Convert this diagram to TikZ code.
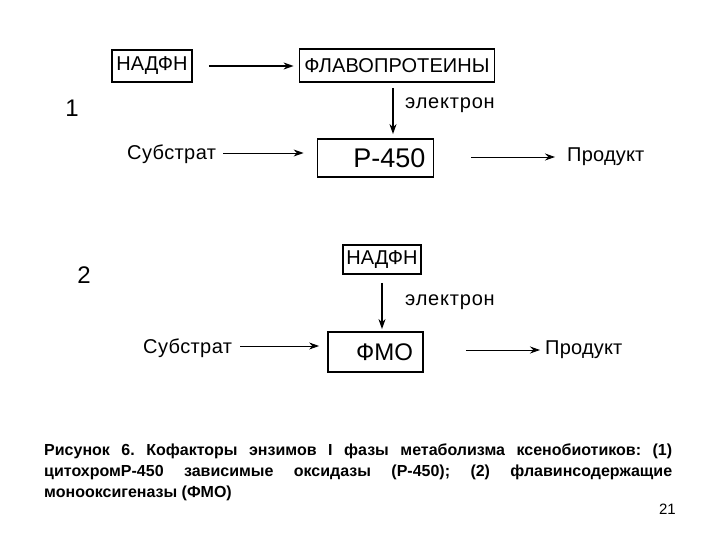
\documentclass[tikz,border=0pt]{standalone}
\usepackage{fontspec}
\setmainfont{Liberation Sans}
\usetikzlibrary{arrows.meta}
\begin{document}
\begin{tikzpicture}[x=1pt,y=-1pt,
  box/.style={draw=black, line width=1.8pt, inner sep=0pt, font=\fontsize{20}{22}\selectfont},
  num/.style={inner sep=0pt, font=\fontsize{24}{26}\selectfont},
  elbl/.style={inner sep=0pt, anchor=west, font=\fontsize{20}{22}\selectfont\addfontfeatures{LetterSpace=4}},
  slbl/.style={inner sep=0pt, anchor=west, font=\fontsize{20}{22}\selectfont\addfontfeatures{LetterSpace=2}},
  plbl/.style={inner sep=0pt, anchor=west, font=\fontsize{20}{22}\selectfont\addfontfeatures{LetterSpace=1}},
  arr/.style={-{Stealth[length=10pt,width=7pt]}, line width=1.6pt},
  tarr/.style={-{Stealth[length=10pt,width=7pt]}, line width=0.9pt}]
\useasboundingbox (0,0) rectangle (720,540);
% part 1
\node[box, minimum width=80pt, minimum height=32pt] (n1) at (152,66) {НАДФН};
\node[box, minimum width=195pt, minimum height=33pt, font=\fontsize{20}{22}\selectfont\addfontfeatures{LetterSpace=0.5}] (fp) at (397,65.5) {ФЛАВОПРОТЕИНЫ};
\node[box, minimum height=38pt, inner xsep=8pt, text width=100pt, align=flush right, font=\fontsize{27}{28}\selectfont] (p450) at (375.5,158) {Р-450};
\node[num] (one) at (72,108) {1};
\node[elbl] (e1) at (405,105) {электрон};
\node[slbl] (s1) at (127,154) {Субстрат};
\node[plbl] (pr1) at (567,157) {Продукт};
\draw[arr, shorten <=16pt, shorten >=5pt] (n1) -- (fp.west |- n1);
\draw[arr, shorten <=5pt, shorten >=4pt] ([xshift=-4pt]fp.south) -- ([xshift=-4pt]fp.south |- p450.north);
\draw[tarr, shorten <=7pt, shorten >=13pt] ([yshift=1pt]s1.east) -- ([yshift=1pt]s1.east -| p450.west);
\draw[tarr, shorten <=37pt, shorten >=12pt] (p450.east |- pr1) -- (pr1.west);
% part 2
\node[num] (two) at (84,275) {2};
\node[box, minimum width=78pt, minimum height=29pt] (n2) at (382,259.5) {НАДФН};
\node[box, minimum height=40pt, inner xsep=10pt, text width=75pt, align=flush right, font=\fontsize{24}{26}\selectfont] (fmo) at (375.5,352) {ФМО};
\node[elbl] (e2) at (405,302) {электрон};
\node[slbl] (s2) at (143,348) {Субстрат};
\node[plbl] (pr2) at (545,350) {Продукт};
\draw[arr, shorten <=8pt, shorten >=2pt] (n2.south) -- (n2.south |- fmo.north);
\draw[tarr, shorten <=8pt, shorten >=8pt] ([yshift=2pt]s2.east) -- ([yshift=2pt]s2.east -| fmo.west);
\draw[tarr, shorten <=42pt, shorten >=5pt] (fmo.east |- pr2) -- (pr2.west);
% caption
\node[anchor=north west, inner sep=0pt, text width=628pt, align=justify,
  font=\fontsize{16}{21}\selectfont\bfseries] (cap) at (44,444)
  {\frenchspacing\hyphenpenalty=10000 Рисунок 6. Кофакторы энзимов I фазы метаболизма ксенобиотиков: (1)\linebreak цитохромР-450 зависимые оксидазы (Р-450); (2) флавинсодержащие\linebreak монооксигеназы (ФМО)};
\node[inner sep=0pt, font=\fontsize{15}{18}\selectfont, anchor=east] (pg) at (676,509) {21};
\end{tikzpicture}
\end{document}
